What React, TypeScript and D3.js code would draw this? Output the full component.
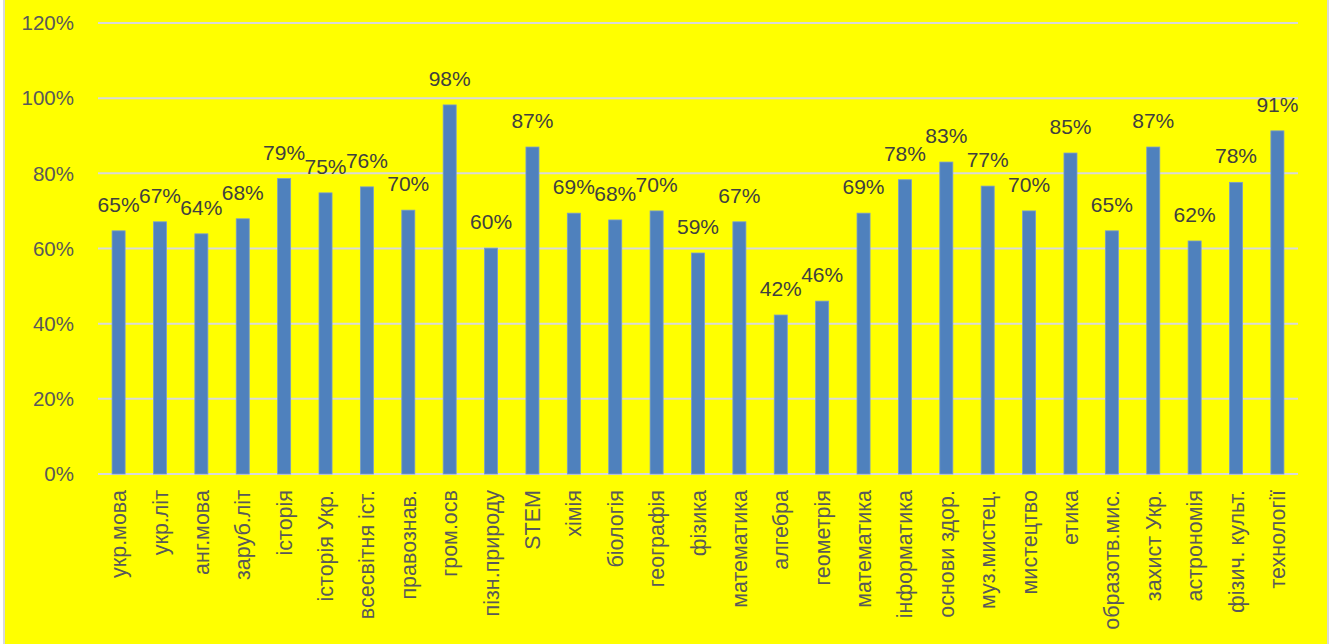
import * as d3 from 'd3';

const W = 1339;
const H = 644;

const subjects = [
  'укр.мова', 'укр.літ', 'анг.мова', 'заруб.літ', 'історія', 'історія Укр.',
  'всесвітня іст.', 'правознав.', 'гром.осв', 'пізн.природу', 'STEM', 'хімія',
  'біологія', 'географія', 'фізика', 'математика', 'алгебра', 'геометрія',
  'математика', 'інформатика', 'основи здор.', 'муз.мистец.', 'мистецтво',
  'етика', 'образотв.мис.', 'захист Укр.', 'астрономія', 'фізич. культ.', 'технології',
];

const scores = [
  0.647, 0.671, 0.639, 0.679, 0.786, 0.748, 0.764, 0.702, 0.982, 0.601,
  0.87, 0.694, 0.676, 0.7, 0.588, 0.671, 0.423, 0.46, 0.694, 0.783,
  0.83, 0.766, 0.7, 0.854, 0.647, 0.87, 0.62, 0.776, 0.913,
];

const yTicks = [0, 0.2, 0.4, 0.6, 0.8, 1.0, 1.2];

export default function App() {
  const margin = { top: 23, right: 41, bottom: 170, left: 98 };
  const innerW = W - margin.left - margin.right;
  const innerH = H - margin.top - margin.bottom;

  // categories are not unique (математика twice), so band on index
  const x = d3
    .scaleBand<number>()
    .domain(d3.range(subjects.length))
    .range([0, innerW])
    .paddingInner(0.685)
    .paddingOuter(0.34);
  const y = d3.scaleLinear().domain([0, 1.2]).range([innerH, 0]);
  const pct = d3.format('.0%');

  const font = '"Liberation Sans", Arial, sans-serif';

  return (
    <svg
      width={W}
      height={H}
      style={{ position: 'absolute', left: 0, top: 0, display: 'block' }}
      fontFamily={font}
    >
      <rect x={0} y={0} width={W} height={H} fill="#ffffff" />
      <rect x={5} y={0} width={1322} height={H} fill="#ffff00" />
      <line x1={4} x2={4} y1={0} y2={H} stroke="#d9d9d9" strokeWidth={2} />
      <line x1={1328} x2={1328} y1={0} y2={H} stroke="#d9d9d9" strokeWidth={2} />

      <g transform={`translate(${margin.left},${margin.top})`}>
        {/* Grid */}
        {yTicks.map((t) => (
          <g key={t}>
            <line x1={0} x2={innerW} y1={y(t)} y2={y(t)} stroke="#d9d9d9" strokeWidth={2} />
            <text
              x={-24}
              y={y(t)}
              dy="0.35em"
              textAnchor="end"
              fontSize={20.5}
              fill="#595959"
            >
              {pct(t)}
            </text>
          </g>
        ))}

        {/* Bars */}
        {scores.map((v, i) => (
          <rect
            key={i}
            x={x(i)}
            y={y(v)}
            width={x.bandwidth()}
            height={innerH - y(v)}
            fill="#4f81bd"
            stroke="#7a9ccb"
            strokeWidth={0.8}
          />
        ))}

        {/* Data labels */}
        {scores.map((v, i) => (
          <text
            key={i}
            x={(x(i) ?? 0) + x.bandwidth() / 2}
            y={y(v) - 19}
            textAnchor="middle"
            fontSize={21}
            fill="#404040"
          >
            {pct(v)}
          </text>
        ))}

        {/* Category labels */}
        {subjects.map((s, i) => {
          const cx = (x(i) ?? 0) + x.bandwidth() / 2;
          return (
            <text
              key={i}
              transform={`translate(${cx},${innerH + 16}) rotate(-90)`}
              textAnchor="end"
              dy="0.35em"
              fontSize={21.5}
              fill="#595959"
            >
              {s}
            </text>
          );
        })}
      </g>
    </svg>
  );
}
